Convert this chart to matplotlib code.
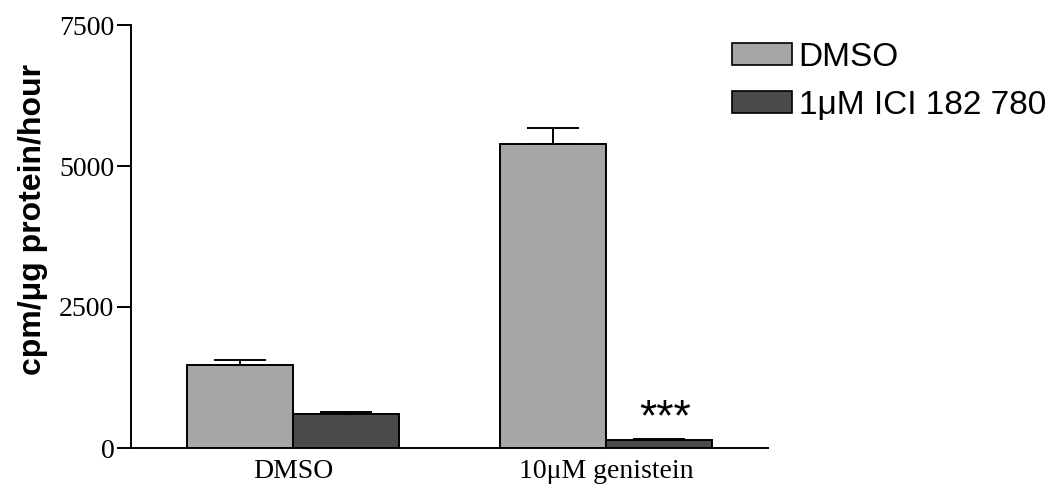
import numpy as np
import matplotlib
matplotlib.use('Agg')
import matplotlib.pyplot as plt
from matplotlib.patches import Patch

# data
groups = ['DMSO', '10\u03bcM genistein']
treatments = ['DMSO', '1\u03bcM ICI 182 780']
means_dmso = [1470, 5390]
sem_dmso = [90, 285]
means_ici = [600, 142]
sem_ici = [38, 24]
bar_colors = ['#a6a6a8', '#4b4b4d']

fig = plt.figure(figsize=(10.62, 4.95), dpi=100)
ax = fig.add_axes([131/1062, 47/495, 637/1062, 423/495])

x = np.arange(len(groups))
w = 0.338
ax.bar(x - w/2, means_dmso, w, color=bar_colors[0], edgecolor='black', linewidth=1.4, zorder=2)
ax.bar(x + w/2, means_ici, w, color=bar_colors[1], edgecolor='black', linewidth=1.4, zorder=2)
# upper error bars only
ax.errorbar(x - w/2, means_dmso, yerr=[np.zeros(2), sem_dmso], fmt='none',
            ecolor='black', elinewidth=1.4, capsize=19, capthick=1.4, zorder=1)
ax.errorbar(x + w/2, means_ici, yerr=[np.zeros(2), sem_ici], fmt='none',
            ecolor='black', elinewidth=1.4, capsize=19, capthick=1.4, zorder=1)

# significance marker
ax.text(x[1] + w/2 + 0.02, 520, '***', ha='center', va='center',
        fontsize=32, family='Liberation Sans')

ax.set_xlim(-0.518, 1.518)
ax.set_ylim(0, 7500)
ax.set_yticks([0, 2500, 5000, 7500])
ax.set_xticks(x)
ax.set_xticklabels(groups, family='Liberation Serif', fontsize=20)
for lab in ax.get_yticklabels():
    lab.set_family('Liberation Serif')
    lab.set_fontsize(20)
ax.tick_params(axis='y', direction='out', length=10, width=1.4, pad=2)
ax.tick_params(axis='x', length=0, pad=8)
for s in ['top', 'right']:
    ax.spines[s].set_visible(False)
ax.spines['left'].set_linewidth(1.4)
ax.spines['bottom'].set_linewidth(1.4)

ax.set_ylabel('cpm/\u03bcg protein/hour', family='Liberation Sans', fontweight='bold',
              fontsize=23)
ax.yaxis.set_label_coords(-0.13, 0.54)

handles = [Patch(facecolor=bar_colors[0], edgecolor='black', linewidth=1.2),
           Patch(facecolor=bar_colors[1], edgecolor='black', linewidth=1.2)]
fig.legend(handles, treatments, loc='upper left', bbox_to_anchor=(732/1062, 1 - 42/495),
           frameon=False, prop={'family': 'Liberation Sans', 'size': 24},
           handlelength=1.8, handleheight=0.62, handletextpad=0.2,
           labelspacing=0.5, borderpad=0, borderaxespad=0)

fig.savefig('out.png', dpi=100)
